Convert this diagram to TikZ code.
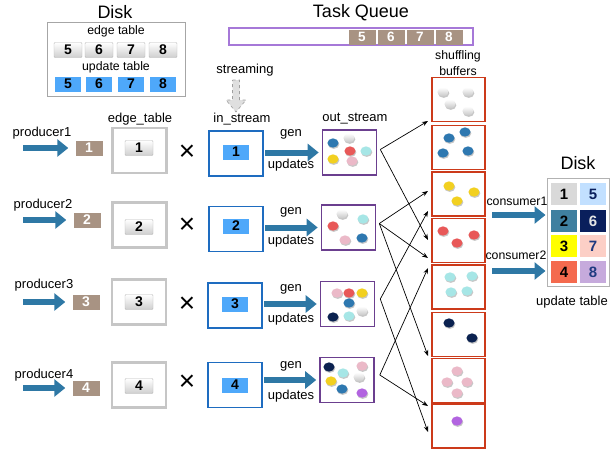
\documentclass[tikz,border=0pt]{standalone}
\usepackage{fontspec}
\setmainfont{Liberation Sans}
\usetikzlibrary{arrows.meta,calc}
\definecolor{arrowblue}{HTML}{2E78A5}
\definecolor{keyblue}{HTML}{4EA8FA}
\definecolor{tilebrown}{HTML}{A89383}
\definecolor{inblue}{HTML}{1E6CC0}
\definecolor{outpurple}{HTML}{6B3F8F}
\definecolor{bufred}{HTML}{CC3A1A}
\definecolor{queuepurple}{HTML}{A678D8}
\definecolor{dwhite}{HTML}{E4E4E4}
\definecolor{dblue}{HTML}{2E78B0}
\definecolor{dred}{HTML}{E85858}
\definecolor{dcyan}{HTML}{A6E6E6}
\definecolor{dyellow}{HTML}{F2D020}
\definecolor{dpink}{HTML}{EBB9C8}
\definecolor{dnavy}{HTML}{0B2250}
\definecolor{dpurple}{HTML}{B264E0}
\definecolor{cone}{HTML}{D9D9D9}
\definecolor{cfive}{HTML}{C2E0FF}
\definecolor{ctwo}{HTML}{3F80A0}
\definecolor{csix}{HTML}{0A1F5C}
\definecolor{cthree}{HTML}{FFFF00}
\definecolor{cseven}{HTML}{FCCFC6}
\definecolor{cfour}{HTML}{F46A4E}
\definecolor{ceight}{HTML}{C6AADC}
\definecolor{tnavy}{HTML}{1F3A80}
\newcommand\pdot[3]{%
  \fill[black!22] (#1+0.7,#2+1.3) ellipse [x radius=5.6pt, y radius=4.6pt];
  \fill[#3] (#1,#2) ellipse [x radius=5.6pt, y radius=4.6pt];}
\newcommand\wdot[2]{%
  \fill[black!22] (#1+0.7,#2+1.3) ellipse [x radius=5.6pt, y radius=4.6pt];
  \shade[top color=white, bottom color=gray!45] (#1,#2) ellipse [x radius=5.6pt, y radius=4.6pt];}
\begin{document}
\begin{tikzpicture}[x=1pt,y=-1pt,
  lbl/.style={font=\fontsize{13}{15}\selectfont, inner sep=0pt},
  slbl/.style={font=\fontsize{12.3}{14}\selectfont, inner sep=0pt},
  ttl/.style={font=\fontsize{18}{21}\selectfont, inner sep=0pt},
  bigarrow/.style={draw=arrowblue, line width=6pt, -{Triangle[width=17pt,length=11pt]}},
  graykey/.style={draw=gray!55, top color=white, bottom color=gray!38, minimum width=28pt, minimum height=15pt, inner sep=0pt, rounded corners=1pt, font=\bfseries\fontsize{14}{14}\selectfont},
  bluekey/.style={fill=keyblue, minimum width=26pt, minimum height=15pt, inner sep=0pt, font=\bfseries\fontsize{14}{14}\selectfont},
  browntile/.style={fill=tilebrown, text=white, minimum width=27pt, minimum height=15pt, inner sep=0pt, font=\bfseries\fontsize{14}{14}\selectfont},
  qcell/.style={fill=tilebrown, text=white, minimum width=27pt, minimum height=15pt, inner sep=0pt, font=\bfseries\fontsize{13.5}{14}\selectfont},
  edgebox/.style={draw=gray!45, line width=2.2pt, fill=white, minimum width=54pt, minimum height=45pt, inner sep=0pt},
  inbox/.style={draw=inblue, line width=1.6pt, fill=white, minimum width=54pt, minimum height=45pt, inner sep=0pt},
  outbox/.style={draw=outpurple, line width=1.6pt, fill=white, minimum width=54pt, minimum height=45pt, inner sep=0pt},
  bufbox/.style={draw=bufred, line width=1.6pt, fill=white, minimum width=53pt, minimum height=44pt, inner sep=0pt},
  times/.style={font=\fontsize{28}{28}\selectfont, inner sep=0pt},
  cell/.style={minimum width=26pt, minimum height=22pt, inner sep=0pt, font=\bfseries\fontsize{15}{15}\selectfont},
  conn/.style={-{Stealth[length=6pt,width=4.5pt]}, line width=0.7pt}
]
\useasboundingbox (0,0) rectangle (611,450);

% ---------- top-left disk ----------
\node[ttl] (disk1) at (115,12) {Disk};
\node[draw=gray!70, line width=0.8pt, minimum width=138pt, minimum height=74pt, inner sep=0pt] (diskbox) at (116,59) {};
\node[slbl] (et) at (116,31) {edge table};
\node[graykey] (e5) at (68,50) {5};
\node[graykey] (e6) at (99,50) {6};
\node[graykey] (e7) at (131,50) {7};
\node[graykey] (e8) at (163,50) {8};
\node[slbl] (ut) at (116,67) {update table};
\node[bluekey] (u5) at (68,84) {5};
\node[bluekey] (u6) at (99,84) {6};
\node[bluekey] (u7) at (131,84) {7};
\node[bluekey] (u8) at (163,84) {8};

% ---------- task queue ----------
\node[ttl] (tq) at (361,13) {Task Queue};
\node[draw=queuepurple, line width=1.4pt, minimum width=244pt, minimum height=17pt, inner sep=0pt] (qbox) at (351,36.5) {};
\node[qcell] (q5) at (362,37) {5};
\node[qcell] (q6) at (391,37) {6};
\node[qcell] (q7) at (420,37) {7};
\node[qcell] (q8) at (449,37) {8};

% ---------- streaming ----------
\node[lbl] (strm) at (245,70) {streaming};
\draw[dashed, draw=gray!75, fill=gray!25, line width=0.6pt]
  (232.5,80) -- (239.5,80) -- (239.5,100) -- (246,100) -- (236,112) -- (226,100) -- (232.5,100) -- cycle;

% ---------- column labels ----------
\node[lbl] (etl) at (140,119) {edge\_table};
\node[lbl] (isl) at (242,119) {in\_stream};
\node[lbl] (osl) at (355,119) {out\_stream};
\node[slbl] (sb1) at (458,56) {shuffling};
\node[slbl] (sb2) at (458,71) {buffers};

% ---------- row 1 ----------
\node[lbl] (pr1) at (42,133) {producer1};
\coordinate (pa1) at (23,148);
\node[browntile] (tl1) at (89,148) {1};
\draw[bigarrow, shorten >=7pt] (pa1) -- (tl1.west);
\node[edgebox] (eb1) at (139.5,150.5) {};
\node[graykey] (ek1) at (139,148) {1};
\node[times] (x1) at (187,153) {×};
\node[inbox] (ib1) at (236,153.5) {};
\node[bluekey] (ik1) at (236,152) {1};
\node[outbox] (o1) at (349.5,152.5) {};
\draw[bigarrow, shorten <=1.5pt, shorten >=3pt] (o1.west -| ib1.east) -- (o1.west);
\node[lbl] (g1) at (291,134) {gen};
\node[lbl] (up1) at (291,165) {updates};

% ---------- row 2 ----------
\node[lbl] (pr2) at (43,205) {producer2};
\coordinate (pa2) at (23,220);
\node[browntile] (tl2) at (87,220) {2};
\draw[bigarrow, shorten >=7pt] (pa2) -- (tl2.west);
\node[edgebox] (eb2) at (139.5,225) {};
\node[graykey] (ek2) at (139,227) {2};
\node[times] (x2) at (187,226) {×};
\node[inbox] (ib2) at (236,229) {};
\node[bluekey] (ik2) at (236,226) {2};
\node[outbox] (o2) at (348.5,227.5) {};
\draw[bigarrow, shorten <=1.5pt, shorten >=3pt] (o2.west -| ib2.east) -- (o2.west);
\node[lbl] (g2) at (291,212) {gen};
\node[lbl] (up2) at (291,241) {updates};

% ---------- row 3 ----------
\node[lbl] (pr3) at (44,285) {producer3};
\coordinate (pa3) at (23,302);
\node[browntile] (tl3) at (86,302) {3};
\draw[bigarrow, shorten >=7pt] (pa3) -- (tl3.west);
\node[edgebox] (eb3) at (139,302) {};
\node[graykey] (ek3) at (139,302) {3};
\node[times] (x3) at (187,305) {×};
\node[inbox] (ib3) at (235,305.5) {};
\node[bluekey] (ik3) at (235,304) {3};
\node[outbox] (o3) at (347.5,304) {};
\draw[bigarrow, shorten <=1.5pt, shorten >=3pt] (o3.west -| ib3.east) -- (o3.west);
\node[lbl] (g3) at (291,289) {gen};
\node[lbl] (up3) at (291,319) {updates};

% ---------- row 4 ----------
\node[lbl] (pr4) at (44,375) {producer4};
\coordinate (pa4) at (23,388);
\node[browntile] (tl4) at (86,388) {4};
\draw[bigarrow, shorten >=7pt] (pa4) -- (tl4.west);
\node[edgebox] (eb4) at (139,385) {};
\node[graykey] (ek4) at (139,386) {4};
\node[times] (x4) at (187,383) {×};
\node[inbox] (ib4) at (235,385) {};
\node[bluekey] (ik4) at (235,385) {4};
\node[outbox] (o4) at (347,380) {};
\draw[bigarrow, shorten <=1.5pt, shorten >=3pt] (o4.west -| ib4.east) -- (o4.west);
\node[lbl] (g4) at (291,366) {gen};
\node[lbl] (up4) at (291,396) {updates};

% ---------- out_stream dots ----------
\pdot{333}{143}{dblue} \wdot{349}{138} \pdot{350}{151}{dred} \pdot{366}{151}{dcyan} \pdot{333}{159}{dyellow} \pdot{352}{161}{dpink}
\wdot{342}{214} \pdot{363}{219}{dcyan} \pdot{333}{226}{dred} \pdot{345}{240}{dpink} \pdot{362}{238}{dblue}
\pdot{337}{293}{dpink} \pdot{349}{293}{dred} \pdot{362}{293}{dyellow} \pdot{349}{303}{dblue} \pdot{333}{317}{dnavy} \pdot{349}{316}{dcyan} \wdot{362}{311}
\pdot{329}{367}{dnavy} \pdot{343}{373}{dcyan} \pdot{362}{366}{dpink} \pdot{331}{381}{dyellow} \wdot{359}{377} \pdot{342}{389}{dblue} \pdot{362}{393}{dpurple}

% ---------- shuffling buffers ----------
\node[bufbox] (b1) at (458.5,99.5) {};
\node[bufbox] (b2) at (458.5,147.5) {};
\node[bufbox] (b3) at (458.5,194) {};
\node[bufbox] (b4) at (458.5,240.5) {};
\node[bufbox] (b5) at (458.5,287) {};
\node[bufbox] (b6) at (458.5,334.5) {};
\node[bufbox] (b7) at (458.5,380.5) {};
\node[bufbox] (b8) at (458.5,426) {};
\wdot{443}{92} \wdot{468}{92} \wdot{450}{104} \wdot{468}{111}
\pdot{449}{138}{dblue} \pdot{465}{132}{dblue} \pdot{443}{153}{dblue} \pdot{468}{151}{dblue}
\pdot{449}{186}{dyellow} \pdot{474}{192}{dyellow} \pdot{457}{201}{dyellow}
\pdot{443}{231}{dred} \pdot{474}{235}{dred} \pdot{457}{243}{dred}
\pdot{450}{277}{dcyan} \pdot{472}{276}{dcyan} \pdot{451}{292}{dcyan} \pdot{467}{291}{dcyan}
\pdot{449}{323}{dnavy} \pdot{472}{338}{dnavy}
\pdot{457}{371}{dpink} \pdot{447}{382}{dpink} \pdot{467}{382}{dpink} \pdot{457}{393}{dpink}
\pdot{457}{421}{dpurple}

% ---------- connectors ----------
\coordinate (t1) at (428,121);
\coordinate (t2) at (428,240);
\coordinate (t3) at (428,191);
\coordinate (t4) at (428,258);
\coordinate (t5) at (428,356);
\coordinate (t6) at (428,211);
\coordinate (t7) at (428,432);
\coordinate (t8) at (428,268);
\coordinate (t9) at (428,406);
\draw[conn] ([shift={(3,-3)}]o1.east) -- (t1);
\draw[conn] ([shift={(3,-3)}]o1.east) -- (t2);
\draw[conn] ([shift={(3,-4)}]o2.east) -- (t3);
\draw[conn] ([shift={(3,-4)}]o2.east) -- (t4);
\draw[conn] ([shift={(3,-4)}]o2.east) -- (t5);
\draw[conn] ([shift={(5,-5)}]o3.east) -- (t6);
\draw[conn] ([shift={(5,-5)}]o3.east) -- (t7);
\draw[conn] ([shift={(5,-5)}]o4.east) -- (t8);
\draw[conn] ([shift={(5,-5)}]o4.east) -- (t9);

% ---------- right disk ----------
\node[ttl] (disk2) at (578,163) {Disk};
\node[draw=gray!60, line width=1pt, fill=white, minimum width=62pt, minimum height=108pt, inner sep=0pt] (dk) at (578,232) {};
\node[cell, fill=cone] (c1) at (564,194) {1};
\node[cell, fill=cfive, text=csix] (c5) at (593,194) {5};
\node[cell, fill=ctwo] (c2) at (564,221) {2};
\node[cell, fill=csix, text=gray!20] (c6) at (593,221) {6};
\node[cell, fill=cthree] (c3) at (564,246) {3};
\node[cell, fill=cseven, text=tnavy] (c7) at (593,246) {7};
\node[cell, fill=cfour] (c4) at (564,272) {4};
\node[cell, fill=ceight, text=tnavy] (c8) at (593,272) {8};
\node[lbl] (ut2) at (572,302) {update table};
\node[slbl] (cs1) at (517,201) {consumer1};
\node[slbl] (cs2) at (516,255) {consumer2};
\coordinate (ca1) at (492,215);
\coordinate (ca2) at (492,271);
\draw[bigarrow, shorten >=1pt] (ca1) -- (ca1 -| dk.west);
\draw[bigarrow, shorten >=1pt] (ca2) -- (ca2 -| dk.west);
\end{tikzpicture}
\end{document}
